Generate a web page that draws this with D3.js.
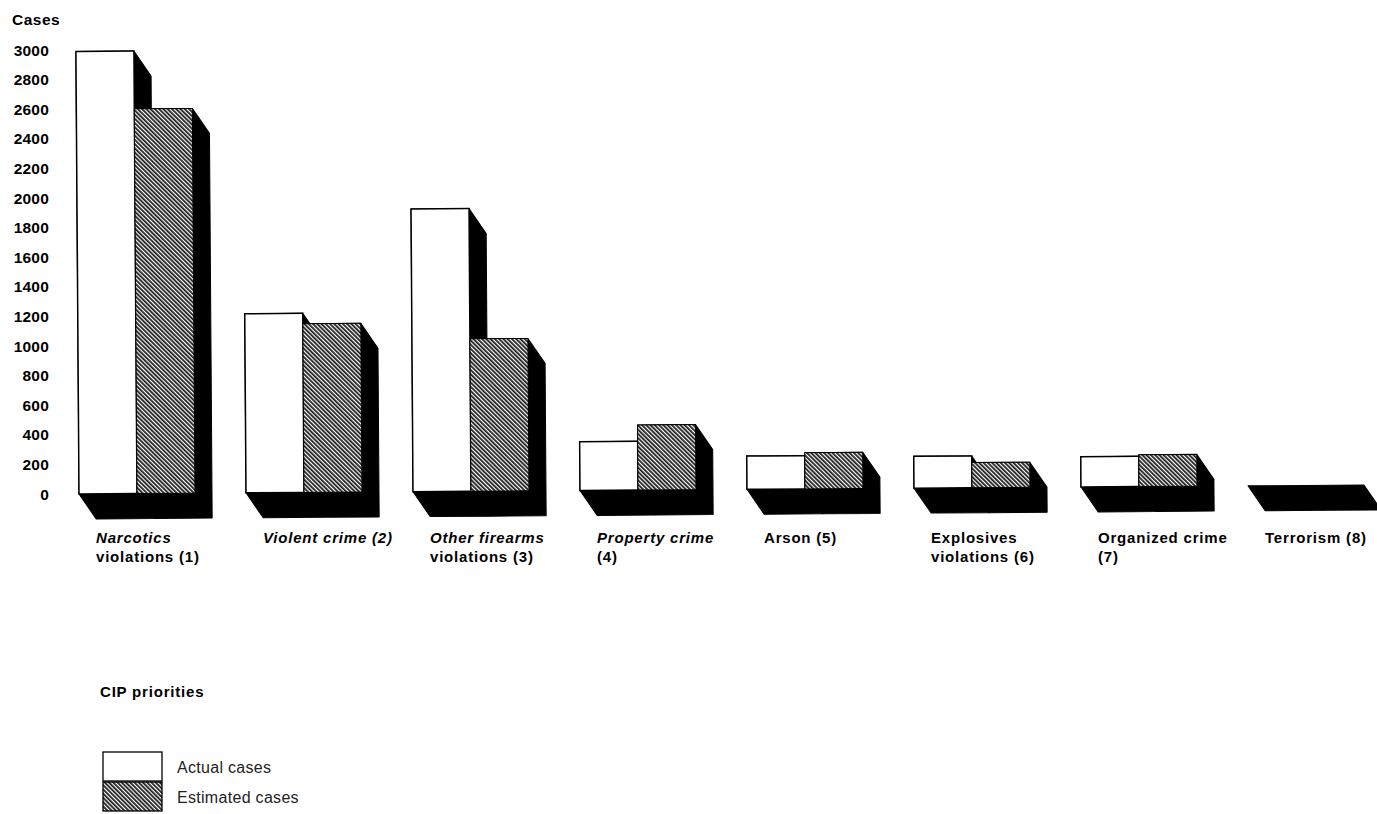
<!DOCTYPE html>
<html><head><meta charset="utf-8">
<script src="https://cdn.jsdelivr.net/npm/d3@7"></script>
<style>
body{margin:0;background:#fff}
text{font-family:"Liberation Sans",Arial,Helvetica,sans-serif}
</style>
</head><body>
<svg id="chart" width="1377" height="814"></svg>
<script>
// ---- data ----
const categories = ["Narcotics violations (1)","Violent crime (2)","Other firearms violations (3)","Property crime (4)","Arson (5)","Explosives violations (6)","Organized crime (7)","Terrorism (8)"];
const labelLines = [["Narcotics","violations (1)"],["Violent crime (2)"],["Other firearms","violations (3)"],["Property crime","(4)"],["Arson (5)"],["Explosives","violations (6)"],["Organized crime","(7)"],["Terrorism (8)"]];
const italicFirstLine = [true,true,true,true,false,false,false,false];
const seriesNames = ["Actual cases","Estimated cases"];
const actualCases = [2990,1210,1910,330,225,215,205,0];
const estimatedCases = [2600,1140,1030,440,245,170,215,0];
const yTicks = [0,200,400,600,800,1000,1200,1400,1600,1800,2000,2200,2400,2600,2800,3000];
const yTitle = "Cases";
const legendTitle = "CIP priorities";

// ---- layout ----
const svg = d3.select("#chart");
const defs = svg.append("defs");
const pat = defs.append("pattern").attr("id","hatch").attr("patternUnits","userSpaceOnUse")
  .attr("width",3).attr("height",3).attr("patternTransform","rotate(-45)");
pat.append("rect").attr("width",3).attr("height",3).attr("fill","#fff");
pat.append("line").attr("x1",0.9).attr("y1",0).attr("x2",0.9).attr("y2",3)
  .attr("stroke","#111").attr("stroke-width",1.7);

const y = d3.scaleLinear().domain([0,3000]).range([494,50]);
const x0 = d3.scaleBand().domain(categories).range([79,1364]).paddingInner(0.3054).paddingOuter(0);
const x1 = d3.scaleBand().domain(seriesNames).range([0,x0.bandwidth()]);
const dx = 17, dy = 25;

// y axis labels
svg.append("text").attr("x",12).attr("y",25).attr("font-size",15.5).attr("font-weight","bold")
  .attr("letter-spacing",0.5).text(yTitle);
svg.append("g").selectAll("text").data(yTicks).join("text")
  .attr("x",49).attr("y",d=>y(d)).attr("dy","0.36em").attr("text-anchor","end")
  .attr("font-size",15.5).attr("font-weight","bold").attr("letter-spacing",0.2)
  .text(d=>d);

// bars
const bars = [];
categories.forEach((c,i)=>{
  bars.push({cat:c, s:seriesNames[0], v:actualCases[i]});
  bars.push({cat:c, s:seriesNames[1], v:estimatedCases[i]});
});
const plot = svg.append("g").attr("transform",`rotate(-0.4, ${x0(categories[0])}, ${y(0)})`);
plot.append("g").selectAll("polygon").data(bars).join("polygon")
  .attr("fill","#000").attr("stroke","#000").attr("stroke-width",1).attr("stroke-linejoin","round")
  .attr("points", d=>{
    const xa = x0(d.cat)+x1(d.s), xb = xa + x1.bandwidth();
    const t = y(d.v), b = y(0);
    return [[xa,t],[xb,t],[xb+dx,t+dy],[xb+dx,b+dy],[xa+dx,b+dy],[xa,b]].map(p=>p.join(",")).join(" ");
  });
plot.append("g").selectAll("rect").data(bars.filter(d=>d.v>0)).join("rect")
  .attr("x", d=>x0(d.cat)+x1(d.s))
  .attr("y", d=>y(d.v))
  .attr("width", x1.bandwidth())
  .attr("height", d=>y(0)-y(d.v))
  .attr("fill", d=>d.s===seriesNames[0] ? "#fff" : "url(#hatch)")
  .attr("stroke","#000")
  .attr("stroke-width", d=>d.s===seriesNames[0] ? 1.5 : 1);

// category labels
const lab = svg.append("g").selectAll("text").data(categories).join("text")
  .attr("x", d=>x0(d)+dx).attr("y",543)
  .attr("font-size",15).attr("font-weight","bold").attr("letter-spacing",0.8);
lab.each(function(d,i){
  const t = d3.select(this);
  labelLines[i].forEach((ln,j)=>{
    t.append("tspan").attr("x", x0(d)+dx).attr("dy", j===0?0:19)
      .attr("font-style", (j===0 && italicFirstLine[i]) ? "italic" : "normal")
      .text(ln);
  });
});

// legend
svg.append("text").attr("x",100).attr("y",697).attr("font-size",15).attr("font-weight","bold")
  .attr("letter-spacing",0.8).text(legendTitle);
const leg = svg.append("g").selectAll("g").data(seriesNames).join("g")
  .attr("transform",(d,i)=>`translate(103,${752+i*30})`);
leg.append("rect").attr("width",59).attr("height",29)
  .attr("fill",(d,i)=>i===0?"#fff":"url(#hatch)").attr("stroke","#000").attr("stroke-width",1.3);
leg.append("text").attr("x",74).attr("y",21).attr("font-size",16).attr("letter-spacing",0.3)
  .attr("fill","#222").text(d=>d);
</script>
</body></html>
